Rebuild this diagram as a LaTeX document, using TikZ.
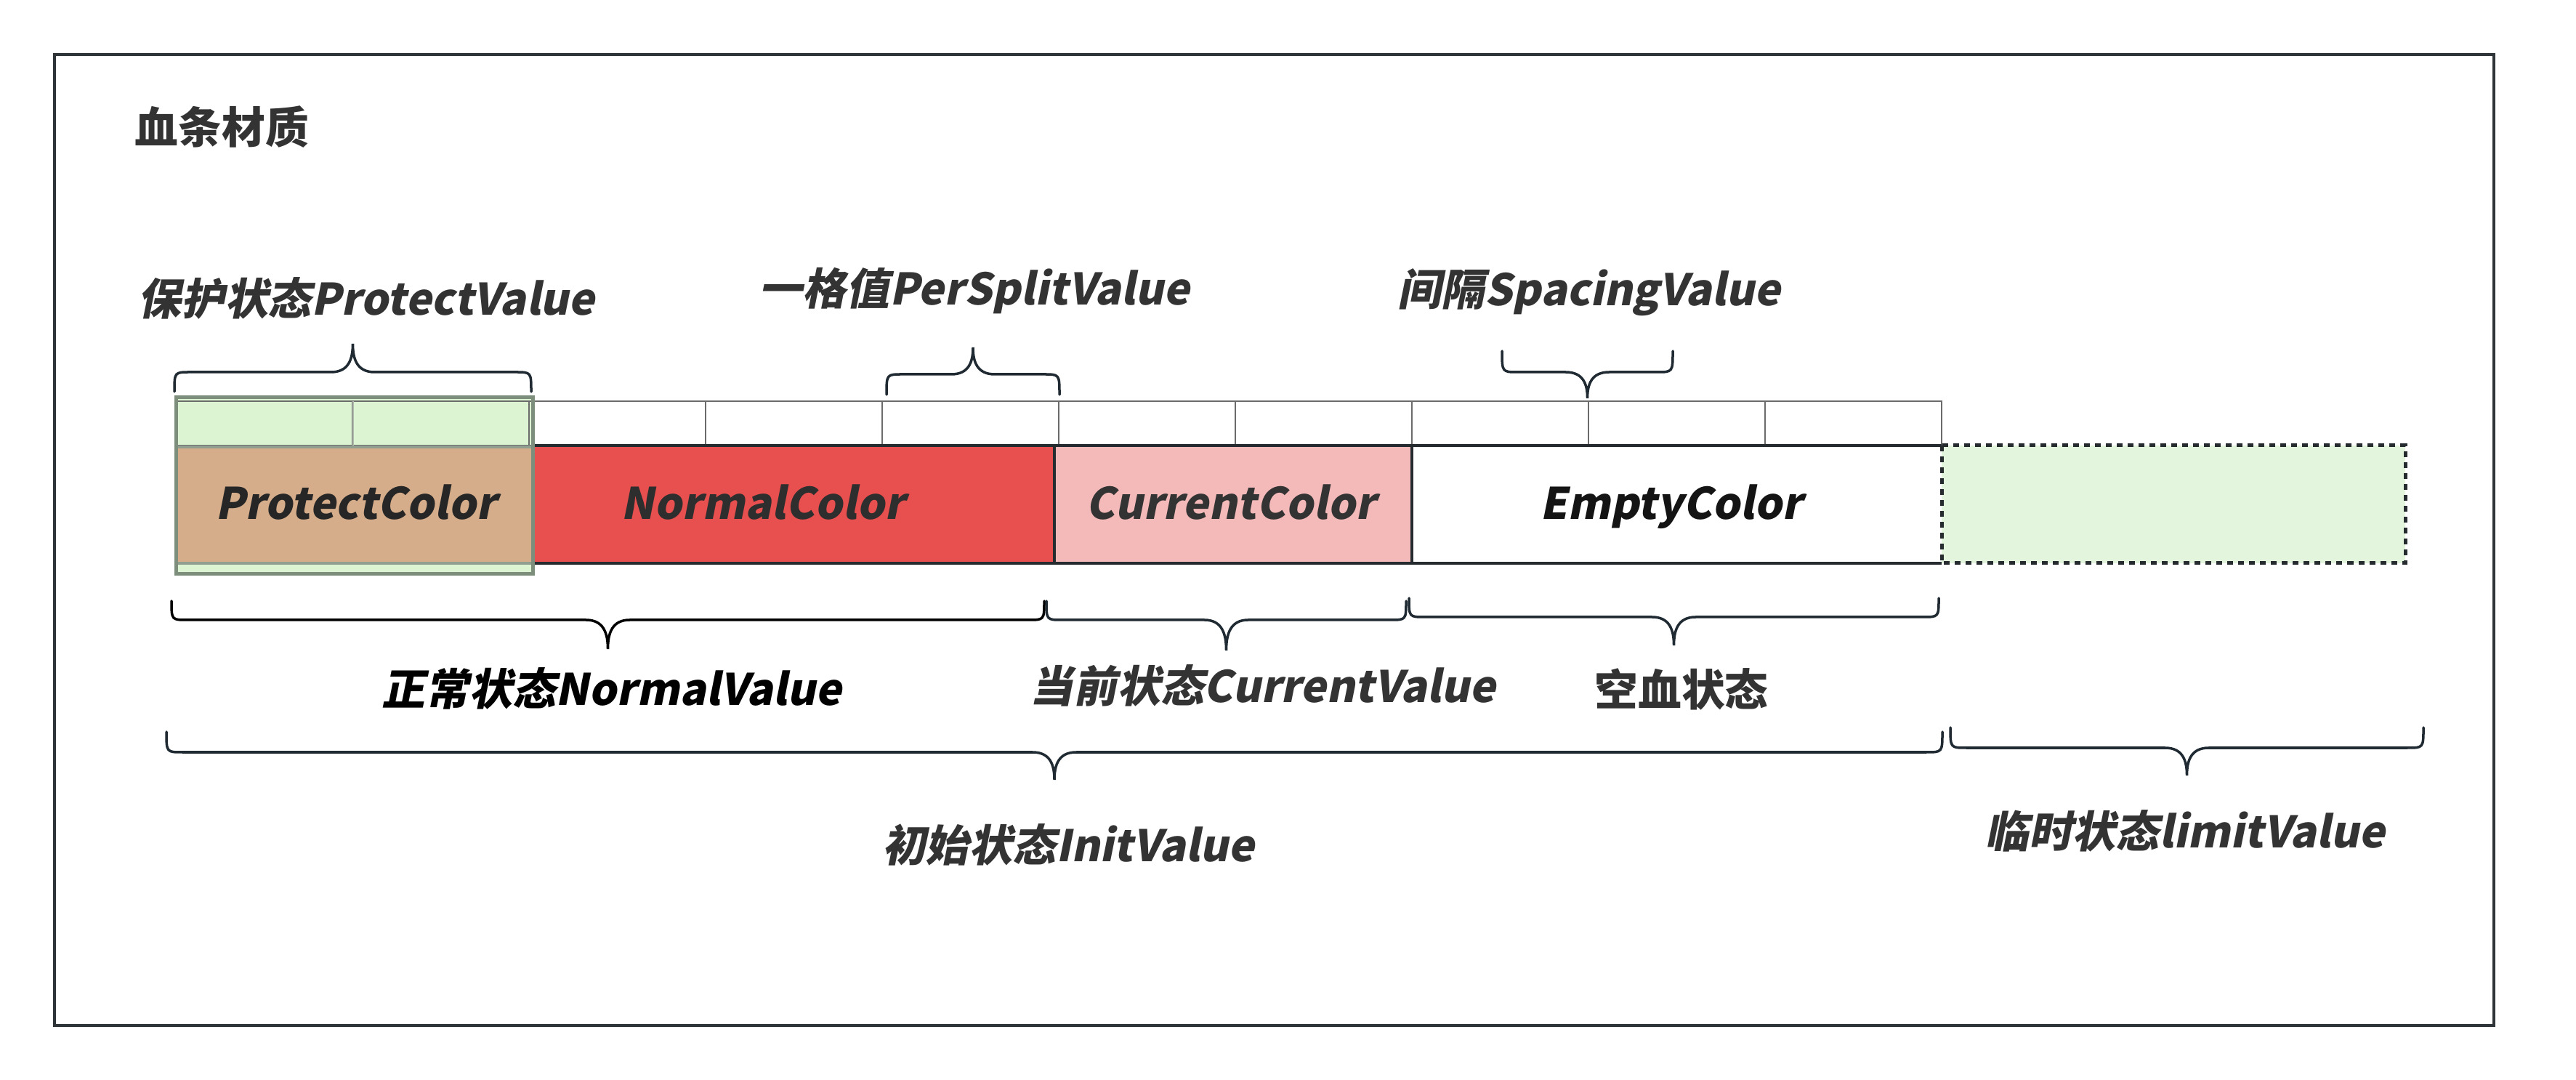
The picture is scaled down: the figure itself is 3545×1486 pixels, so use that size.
\documentclass[tikz,border=0pt]{standalone}
\usepackage{fontspec}
\setmainfont{Noto Sans CJK SC}
\newfontfamily\cjk{Noto Sans CJK SC}
\newfontfamily\cjki{Noto Sans CJK SC}[FakeSlant=0.2]
\definecolor{framec}{HTML}{2F3439}
\definecolor{txt}{HTML}{333333}
\definecolor{bracec}{HTML}{1F2A33}
\definecolor{tanc}{HTML}{D5AD8A}
\definecolor{redc}{HTML}{E84F4F}
\definecolor{pinkc}{HTML}{F4B9B9}
\definecolor{greenc}{HTML}{DCF4D2}
\definecolor{limitc}{HTML}{E3F5DC}
\definecolor{olc}{HTML}{7E8E7C}
\definecolor{cellc}{HTML}{6B6B6B}
\definecolor{barc}{HTML}{262B30}
\newcommand\mybrace[6]{% style, x1, x2, yend, ymid, ytip
  \draw[#1] (#2,#4) .. controls (#2,#5) and (#2,#5) .. ({#2+22},#5)
    -- ({(#2+#3)/2-30},#5)
    .. controls ({(#2+#3)/2-6},#5) and ({(#2+#3)/2},{#5+0.45*(#6-#5)}) .. ({(#2+#3)/2},#6)
    .. controls ({(#2+#3)/2},{#5+0.45*(#6-#5)}) and ({(#2+#3)/2+6},#5) .. ({(#2+#3)/2+30},#5)
    -- ({#3-22},#5) .. controls (#3,#5) and (#3,#5) .. (#3,#4);}
\tikzset{
  lbl/.style={font=\fontsize{17pt}{20pt}\cjki\bfseries, text=txt, inner sep=0pt},
  uplbl/.style={font=\fontsize{17pt}{20pt}\cjk\bfseries, text=txt, inner sep=0pt},
  boxtxt/.style={lbl, anchor=base},
  brc/.style={draw=bracec, line width=0.035cm, line cap=round},
  cellbox/.style={draw=cellc, line width=0.028cm},
}
\begin{document}
\begin{tikzpicture}[x=0.01cm,y=-0.01cm]
\useasboundingbox (0,0) rectangle (3545,1486);
% frame
\draw[draw=framec, line width=0.045cm] (75,75) rectangle (3432,1411);
\node[uplbl, anchor=west] (title) at (185,175) {血条材质};
% protect green overlay background
\fill[greenc] (242,547) rectangle (733,790);
% cells row
\foreach \i in {0,...,9} {
  \draw[cellbox] ({242+243*\i},552) rectangle ({485+243*\i},613);
}
\draw[draw=olc!60, line width=0.025cm] (486,552) -- (486,613);
% main bar
\fill[tanc] (242,615) rectangle (733,775);
\fill[redc] (733,613) rectangle (1451,775);
\fill[pinkc] (1451,613) rectangle (1943,775);
\fill[white] (1943,613) rectangle (2672,775);
\draw[barc, line width=0.045cm] (733,613) -- (2672,613);
\draw[barc, line width=0.045cm] (733,775) -- (2672,775);
\draw[barc, line width=0.035cm] (1451,613) -- (1451,775);
\draw[barc, line width=0.035cm] (1943,613) -- (1943,775);
% tan borders through overlay
\draw[draw=olc!85, line width=0.04cm] (242,615) -- (733,615);
\draw[draw=olc!85, line width=0.04cm] (242,775) -- (733,775);
\draw[draw=olc, line width=0.05cm] (242,547) rectangle (733,790);
% limit dashed box
\fill[limitc] (2672,613) rectangle (3310,775);
\draw[barc, line width=0.05cm, dash pattern=on 0.08cm off 0.07cm] (2672,613) rectangle (3310,775);
% box texts
\node[boxtxt, text=black!85] (protectc) at (490,715) {ProtectColor};
\node[boxtxt, text=black!82] (normalc) at (1050,715) {NormalColor};
\node[boxtxt] (currentc) at (1694,715) {CurrentColor};
\node[boxtxt, text=black!92] (emptyc) at (2300,715) {EmptyColor};
% top braces and labels
\mybrace{brc}{240}{731}{539}{512}{473}
\node[lbl] (protectv) at (504,410) {保护状态ProtectValue};
\mybrace{brc}{1220}{1458}{543}{515}{478}
\node[lbl] (splitv) at (1341,400) {一格值PerSplitValue};
\mybrace{brc}{2067}{2302}{483}{512}{548}
\node[lbl] (spacingv) at (2187,402) {间隔SpacingValue};
% bottom braces and labels
\mybrace{brc, draw=black}{236}{1437}{827}{853}{893}
\node[lbl, text=black] (normalv) at (842,947) {正常状态NormalValue};
\mybrace{brc}{1440}{1935}{827}{853}{895}
\node[lbl] (currentv) at (1738,943) {当前状态CurrentValue};
\mybrace{brc}{1939}{2668}{823}{849}{888}
\node[uplbl] (emptyv) at (2314,948) {空血状态};
\mybrace{brc}{229}{2673}{1007}{1035}{1073}
\node[lbl] (initv) at (1470,1162) {初始状态InitValue};
\mybrace{brc}{2684}{3335}{1001}{1029}{1067}
\node[lbl] (limitv) at (3007,1143) {临时状态limitValue};
\end{tikzpicture}
\end{document}
